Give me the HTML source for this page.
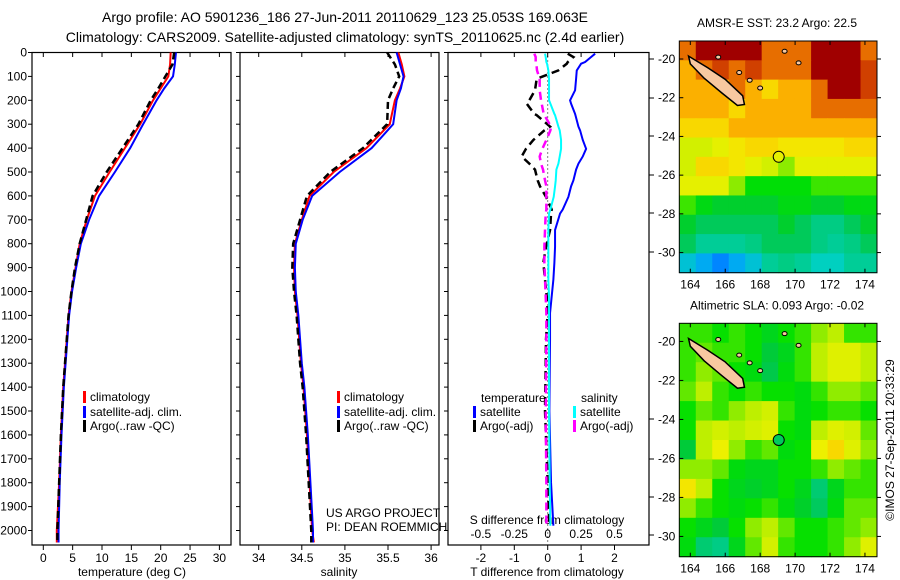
<!DOCTYPE html>
<html><head><meta charset="utf-8"><style>
html,body{margin:0;padding:0;background:#fff;}
svg{display:block;font-family:"Liberation Sans",sans-serif;}
</style></head><body>
<svg id="c" width="900" height="580" viewBox="0 0 900 580">
<text x="345" y="22" font-size="14" text-anchor="middle">Argo profile: AO 5901236_186 27-Jun-2011 20110629_123 25.053S 169.063E</text>
<text x="345" y="42" font-size="14" text-anchor="middle">Climatology: CARS2009. Satellite-adjusted climatology: synTS_20110625.nc (2.4d earlier)</text>
<g id="g"></g>
</svg>
<script>
// ---------- data ----------
const depthTicks=[0,100,200,300,400,500,600,700,800,900,1000,1100,1200,1300,1400,1500,1600,1700,1800,1900,2000];
const tTicks=[0,5,10,15,20,25,30];
const sTicks=[34,34.5,35,35.5,36];
const dTTicks=[-2,-1,0,1,2];
const dSTicks=[-0.5,-0.25,0,0.25,0.5];
const dSTickLabels=["-0.5","-0.25","0","0.25","0.5"];
const pDepth=[0,50,100,150,200,300,400,500,600,700,800,900,1000,1100,1200,1300,1400,1600,1800,2000,2050];
const tClim=[21.7,21.6,21.3,20,18.7,16.5,13.9,11.3,8.8,7.4,6.2,5.5,4.8,4.3,4.0,3.7,3.4,3.0,2.7,2.3,2.3];
const tSat=[22.6,22.4,22.1,20.6,19.3,17.0,14.8,12.2,9.5,7.8,6.4,5.6,4.9,4.4,4.1,3.8,3.5,3.1,2.8,2.6,2.6];
const tArgo=[22.3,22.0,20.8,19.6,18.3,16.2,13.5,10.8,8.4,7.3,6.2,5.4,4.8,4.3,4.0,3.7,3.4,3.0,2.7,2.4,2.4];
const sClim=[35.62,35.66,35.69,35.64,35.58,35.52,35.25,34.87,34.59,34.50,34.42,34.41,34.42,34.45,34.47,34.49,34.52,34.56,34.59,34.62,34.64];
const sSat=[35.60,35.64,35.68,35.65,35.60,35.56,35.31,34.94,34.62,34.51,34.43,34.42,34.43,34.46,34.48,34.50,34.53,34.57,34.60,34.63,34.63];
const sArgo=[35.49,35.58,35.63,35.56,35.50,35.49,35.21,34.83,34.56,34.48,34.40,34.39,34.41,34.44,34.46,34.48,34.51,34.55,34.58,34.61,34.61];
const dDepth=[5,19,40,47,75,110,158,200,214,257,262,310,326,366,403,435,465,490,535,560,604,657,674,743,813,880,950,1020,1090,1200,1500,1800,1980];
const dTSat=[1.42,1.3,1.12,1.0,0.87,0.85,0.82,0.67,0.7,0.82,0.83,0.92,0.97,1.05,1.15,1.05,0.92,0.85,0.77,0.7,0.62,0.45,0.37,0.22,0.22,0.2,0.17,0.12,0.07,0.07,0.05,0.1,0.17];
const dTArgo=[0.6,0.77,0.6,0.57,0.32,-0.33,-0.38,-0.55,-0.63,-0.4,-0.33,0.07,-0.1,-0.43,-0.65,-0.78,-0.55,-0.38,-0.3,-0.23,-0.05,0.12,0.1,0.07,-0.05,-0.13,-0.08,-0.03,0,-0.05,-0.08,0,0.05];
const dSSat=[-0.02,-0.015,-0.01,-0.005,0.005,0.01,0.01,0.01,0.02,0.05,0.055,0.08,0.09,0.1,0.1,0.09,0.08,0.065,0.06,0.055,0.045,0.02,0.01,0.005,0.005,0.005,0.005,0.01,0.01,0.01,0.01,0.015,0.02];
const dSArgo=[-0.1,-0.09,-0.09,-0.085,-0.08,-0.06,-0.06,-0.05,-0.045,-0.03,-0.025,0.025,0.02,-0.01,-0.04,-0.06,-0.05,-0.035,-0.02,-0.01,-0.01,-0.01,-0.015,-0.02,-0.025,-0.025,-0.02,-0.015,-0.01,-0.01,-0.015,-0.01,-0.01];
const lonTicks=[164,166,168,170,172,174];
const latTicks=[-20,-22,-24,-26,-28,-30];
const sstGrid=[
[24,25,25,25,25,24,24,24,25,25,25,24],
[23.5,24,24.5,24,24.5,24,24,24,25,25,25,24.5],
[23.5,23.5,23.5,24,23.5,23,23.5,23.5,24,25,25,24.5],
[23.5,23.5,23.5,23,23.5,23.5,23.5,23.5,24,24,24,24],
[23,23,23,23.5,23.5,23.5,23.5,23.5,23.5,23.5,23.5,23.5],
[22.3,22.3,22.5,22.8,23,23,22.8,22.8,22.8,22.8,23,23],
[22.3,23,23,22.8,22.5,22.3,22,22.5,22.5,22.5,22.5,22.5],
[22.5,22.5,22.5,22,21.6,21.6,21.6,21.6,21.8,21.8,21.8,21.8],
[21.8,21.5,21.3,21.3,21.3,21.3,21.5,21.5,21.3,21.3,21.5,21.5],
[21.3,21,21,21,21,21,21.3,21,20.8,20.8,21,21.3],
[21,20.7,20.7,20.7,20.8,21,21,21,20.8,20.7,20.8,21],
[20.3,20,19.7,20,20.3,20.7,20.8,20.7,20.5,20.5,20.7,20.7]];
const slaGrid=[
[0.05,0.05,0.04,0.05,0.04,0.02,0.04,0.05,0.07,0.08,0.05,0.05],
[0.05,0.06,0.05,0.05,0.04,0.0,0.02,0.05,0.08,0.1,0.1,0.08],
[0.05,0.07,0.06,0.04,0.03,-0.01,0.03,0.05,0.08,0.1,0.1,0.08],
[0.06,0.08,0.05,0.04,0.05,0.04,0.04,0.03,0.05,0.07,0.07,0.06],
[0.04,0.06,0.05,0.07,0.08,0.09,0.05,0.03,0.04,0.05,0.05,0.04],
[0.04,0.08,0.09,0.08,0.09,0.1,0.04,0.03,0.08,0.1,0.09,0.06],
[0.0,0.08,0.11,0.07,0.05,0.06,0.03,0.04,0.11,0.13,0.1,0.07],
[0.07,0.07,0.06,0.03,0.02,0.02,0.04,0.04,0.05,0.07,0.06,0.05],
[0.12,0.08,0.04,0.02,0.01,0.02,0.04,0.02,-0.03,0.02,0.05,0.05],
[0.07,0.05,0.04,0.03,0.04,0.05,0.03,0.01,-0.02,0.03,0.06,0.06],
[0.04,0.02,0.0,0.04,0.07,0.08,0.06,0.04,0.04,0.05,0.06,0.07],
[0.03,-0.03,-0.04,0.02,0.06,0.09,0.05,0.04,0.04,0.05,0.07,0.1]];
const argoLon=169.063, argoLat=-25.053, argoSST=22.5, argoSLA=-0.02;
const ncLon=[163.9,165.0,166.0,167.0,167.1,166.7,165.8,164.8,164.0];
const ncLat=[-19.85,-20.45,-21.05,-21.9,-22.35,-22.4,-21.75,-21.0,-20.25];
// ---------- helpers ----------
const NS='http://www.w3.org/2000/svg';
const G=document.getElementById('g');
function mk(tag,attrs,parent){const e=document.createElementNS(NS,tag);for(const k in attrs)e.setAttribute(k,attrs[k]);(parent||G).appendChild(e);return e;}
const yD=d=>52.5+d*0.239;
const xT=t=>43.3+t*5.87;
const xS=s=>258.7+(s-34)*86.2;
const xdT=v=>547.7+v*33.4;
const xdS=v=>547.7+v*133.6;
function frame(x0,x1,name){const r=mk('rect',{x:x0,y:52.5,width:x1-x0,height:492.5,fill:'none',stroke:'#000','stroke-width':1.2});
}
function line(xs,ys,color,dash,w,name){const p=mk('polyline',{points:xs.map((x,i)=>x+','+ys[i]).join(' '),fill:'none',stroke:color,'stroke-width':w||2,'stroke-dasharray':dash||'none'});
}
function txt(x,y,s,opts,name){const t=mk('text',Object.assign({x:x,y:y,'font-size':12},opts||{}));t.textContent=s;
return t;}
frame(32,231,'temperature-panel');frame(240,439,'salinity-panel');frame(448,649,'difference-panel');
depthTicks.forEach(d=>{mk('line',{x1:28,x2:32,y1:yD(d),y2:yD(d),stroke:'#000'});
txt(27,yD(d)+4,String(d),{'text-anchor':'end'},'depth-tick-label');
mk('line',{x1:236,x2:240,y1:yD(d),y2:yD(d),stroke:'#000'});
mk('line',{x1:444,x2:448,y1:yD(d),y2:yD(d),stroke:'#000'});});
[59,98,136,175,213,252,419,459,497,535].forEach(y=>mk('line',{x1:649,x2:654,y1:y,y2:y,stroke:'#000'}));
tTicks.forEach(t=>{mk('line',{x1:xT(t),x2:xT(t),y1:545,y2:550,stroke:'#000'});mk('line',{x1:xT(t),x2:xT(t),y1:52.5,y2:57,stroke:'#000'});
txt(xT(t),562,String(t),{'text-anchor':'middle'},'temperature-tick-label');});
sTicks.forEach(s=>{mk('line',{x1:xS(s),x2:xS(s),y1:545,y2:550,stroke:'#000'});mk('line',{x1:xS(s),x2:xS(s),y1:52.5,y2:57,stroke:'#000'});
txt(xS(s),562,String(s),{'text-anchor':'middle'},'salinity-tick-label');});
dTTicks.forEach(v=>{mk('line',{x1:xdT(v),x2:xdT(v),y1:545,y2:550,stroke:'#000'});mk('line',{x1:xdT(v),x2:xdT(v),y1:52.5,y2:57,stroke:'#000'});
txt(xdT(v),562,v<0?'-'+Math.abs(v):String(v),{'text-anchor':'middle'},'t-diff-tick-label');});
dSTicks.forEach((v,i)=>{txt(xdS(v),538,dSTickLabels[i],{'text-anchor':'middle'},'s-diff-tick-label');});
txt(132,576,'temperature (deg C)',{'text-anchor':'middle'},'temperature-axis-title');
txt(339,576,'salinity',{'text-anchor':'middle'},'salinity-axis-title');
txt(547,576,'T difference from climatology',{'text-anchor':'middle'},'t-diff-axis-title');
txt(547,524,'S difference from climatology',{'text-anchor':'middle'},'s-diff-axis-title');
const yy=pDepth.map(yD);
line(tClim.map(xT),yy,'#f00',null,2,'temperature-climatology-line');
line(tSat.map(xT),yy,'#0000ff',null,2,'temperature-satellite-line');
line(tArgo.map(xT),yy,'#000','7,4',2.5,'temperature-argo-line');
line(sClim.map(xS),yy,'#f00',null,2,'salinity-climatology-line');
line(sSat.map(xS),yy,'#0000ff',null,2,'salinity-satellite-line');
line(sArgo.map(xS),yy,'#000','7,4',2.5,'salinity-argo-line');
const dy=dDepth.map(yD);
mk('line',{x1:xdT(0),x2:xdT(0),y1:52.5,y2:545,stroke:'#000','stroke-dasharray':'1,3'});
line(dTSat.map(xdT),dy,'#0000ff',null,2,'t-diff-satellite-line');
line(dTArgo.map(xdT),dy,'#000','8,5',2.5,'t-diff-argo-line');
line(dSSat.map(xdS),dy,'#00ffff',null,2,'s-diff-satellite-line');
line(dSArgo.map(xdS),dy,'#ff00ff','8,5',2.5,'s-diff-argo-line');
function leg(x,y,c,s,name){mk('rect',{x:x,y:y-6,width:3,height:12,fill:c});txt(x+7,y+4,s,{},name);}
leg(83,397,'#f00','climatology','legend-climatology');leg(83,412,'#0000ff','satellite-adj. clim.','legend-satellite');leg(83,426,'#000','Argo(..raw -QC)','legend-argo');
leg(337,397,'#f00','climatology','legend-climatology-2');leg(337,412,'#0000ff','satellite-adj. clim.','legend-satellite-2');leg(337,426,'#000','Argo(..raw -QC)','legend-argo-2');
txt(481,402,'temperature',{},'legend-temperature-header');txt(581,402,'salinity',{},'legend-salinity-header');
leg(473,412,'#0000ff','satellite','legend-t-satellite');leg(473,426,'#000','Argo(-adj)','legend-t-argo');
leg(573,412,'#00ffff','satellite','legend-s-satellite');leg(573,426,'#ff00ff','Argo(-adj)','legend-s-argo');
txt(326,517,'US ARGO PROJECT',{},'project-credit');txt(326,531,'PI: DEAN ROEMMICH',{},'pi-credit');
const stops=[[0,[0,80,255]],[0.15,[0,160,255]],[0.3,[0,208,192]],[0.45,[0,200,64]],[0.55,[0,224,0]],[0.65,[200,240,0]],[0.72,[240,240,0]],[0.8,[255,192,0]],[0.88,[240,128,0]],[0.95,[208,64,0]],[1,[160,0,0]]];
function cmap(t){t=Math.max(0,Math.min(1,t));for(let i=1;i<stops.length;i++){if(t<=stops[i][0]){const a=stops[i-1],b=stops[i],f=(t-a[0])/(b[0]-a[0]);
return 'rgb('+a[1].map((v,k)=>Math.round(v+(b[1][k]-v)*f)).join(',')+')';}}return 'rgb(160,0,0)';}
const sstT=v=>{const tb=[[19.5,0.05],[20,0.18],[20.5,0.3],[21,0.42],[21.5,0.52],[22,0.62],[22.5,0.7],[23,0.76],[23.5,0.82],[24,0.9],[25,1]];
for(let i=1;i<tb.length;i++)if(v<=tb[i][0]){const a=tb[i-1],b=tb[i];return a[1]+(b[1]-a[1])*(v-a[0])/(b[0]-a[0]);}return v<19.5?0:1;};
const slaT=v=>0.53+(v-0.03)*2.3;
function map(y0,y1,grid,tf,aval,title,nm){
  const x0=679.3,x1=877,lonMin=163.37,lonMax=174.69,latMax=-19.07,latMin=-31.04;
  const xL=l=>x0+(l-lonMin)/(lonMax-lonMin)*(x1-x0);
  const yL=l=>y0+(latMax-l)/(latMax-latMin)*(y1-y0);
  const nr=grid.length,nc=grid[0].length,dl=(lonMax-lonMin)/nc,dp=(latMax-latMin)/nr;
  grid.forEach((row,r)=>row.forEach((v,c)=>{const a=xL(lonMin+c*dl),b=xL(lonMin+(c+1)*dl),ya=yL(latMax-r*dp),yb=yL(latMax-(r+1)*dp);
    const e=mk('rect',{x:a,y:ya,width:b-a+0.5,height:yb-ya+0.5,fill:cmap(tf(v))});
    }));
  const p=mk('polygon',{points:ncLon.map((l,i)=>xL(l)+','+yL(ncLat[i])).join(' '),fill:'#f8c8a0',stroke:'#000','stroke-width':1.5});
  
  [[165.6,-19.9],[166.8,-20.7],[167.4,-21.1],[168,-21.5],[169.4,-19.6],[170.2,-20.2]].forEach(q=>mk('ellipse',{cx:xL(q[0]),cy:yL(q[1]),rx:2.5,ry:2,fill:'#f8c8a0',stroke:'#000','stroke-width':1}));
  const ci=mk('circle',{cx:xL(argoLon),cy:yL(argoLat),r:5.5,fill:cmap(tf(aval)),stroke:'#000','stroke-width':1});
  
  const f=mk('rect',{x:x0,y:y0,width:x1-x0,height:y1-y0,fill:'none',stroke:'#000','stroke-width':1});
  
  lonTicks.forEach(l=>{mk('line',{x1:xL(l),x2:xL(l),y1:y1,y2:y1-4,stroke:'#000'});mk('line',{x1:xL(l),x2:xL(l),y1:y0,y2:y0+4,stroke:'#000'});
    txt(xL(l),y1+16,String(l),{'text-anchor':'middle'},nm+'-lon-label');});
  latTicks.forEach(l=>{mk('line',{x1:x0,x2:x0+4,y1:yL(l),y2:yL(l),stroke:'#000'});mk('line',{x1:x1,x2:x1+4,y1:yL(l),y2:yL(l),stroke:'#000'});
    txt(x0-4,yL(l)+4,String(l),{'text-anchor':'end'},nm+'-lat-label');});
  txt(777,y0-14,title,{'text-anchor':'middle'},nm+'-title');
}
map(41,272.7,sstGrid,sstT,argoSST,'AMSR-E SST: 23.2 Argo: 22.5','sst-map');
map(323.3,556.7,slaGrid,slaT,argoSLA,'Altimetric SLA: 0.093 Argo: -0.02','sla-map');
txt(0,0,'\u00a9IMOS 27-Sep-2011 20:33:29',{'text-anchor':'middle',transform:'translate(894,440) rotate(-90)'},'imos-timestamp');
</script>
</body></html>
